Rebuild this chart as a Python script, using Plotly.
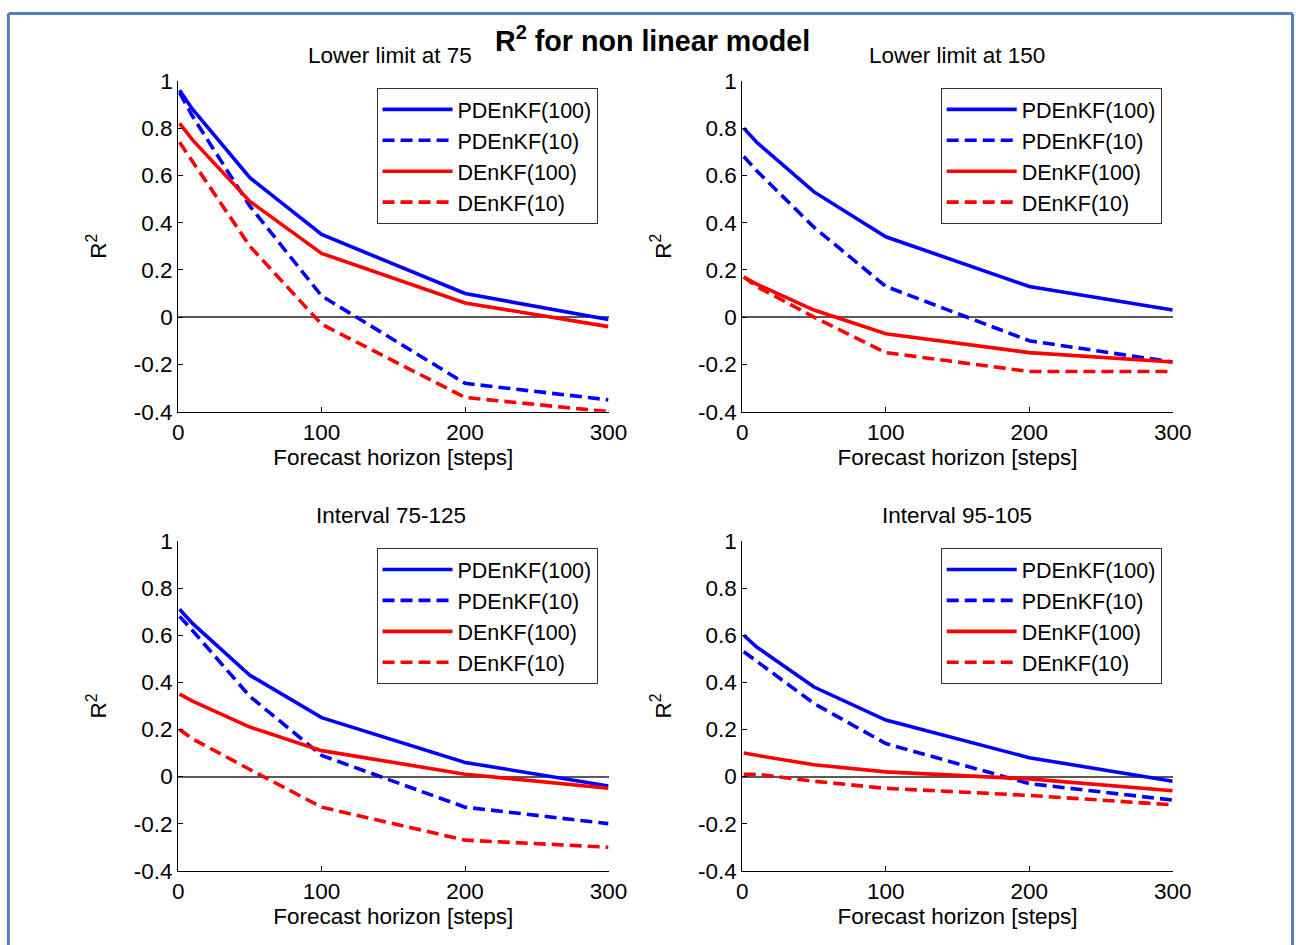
import plotly.graph_objects as go

# ---------------- data ----------------
horizon = [1, 10, 50, 100, 200, 300]

series_names = ["PDEnKF(100)", "PDEnKF(10)", "DEnKF(100)", "DEnKF(10)"]

panel_titles = ["Lower limit at 75", "Lower limit at 150", "Interval 75-125", "Interval 95-105"]

# Lower limit at 75
ll75_pdenkf100 = [0.96, 0.88, 0.59, 0.35, 0.10, -0.01]
ll75_pdenkf10 = [0.95, 0.85, 0.47, 0.09, -0.28, -0.35]
ll75_denkf100 = [0.82, 0.75, 0.49, 0.27, 0.06, -0.04]
ll75_denkf10 = [0.74, 0.66, 0.30, -0.03, -0.34, -0.40]

# Lower limit at 150
ll150_pdenkf100 = [0.80, 0.74, 0.53, 0.34, 0.13, 0.03]
ll150_pdenkf10 = [0.68, 0.62, 0.38, 0.13, -0.10, -0.19]
ll150_denkf100 = [0.17, 0.14, 0.03, -0.07, -0.15, -0.19]
ll150_denkf10 = [0.17, 0.13, 0.00, -0.15, -0.23, -0.23]

# Interval 75-125
i75_pdenkf100 = [0.71, 0.65, 0.43, 0.25, 0.06, -0.04]
i75_pdenkf10 = [0.68, 0.62, 0.34, 0.09, -0.13, -0.20]
i75_denkf100 = [0.35, 0.32, 0.21, 0.11, 0.01, -0.05]
i75_denkf10 = [0.20, 0.16, 0.03, -0.13, -0.27, -0.30]

# Interval 95-105
i95_pdenkf100 = [0.60, 0.55, 0.38, 0.24, 0.08, -0.02]
i95_pdenkf10 = [0.53, 0.49, 0.31, 0.14, -0.03, -0.10]
i95_denkf100 = [0.10, 0.09, 0.05, 0.02, -0.01, -0.06]
i95_denkf10 = [0.01, 0.01, -0.02, -0.05, -0.08, -0.12]

panels = [
    [ll75_pdenkf100, ll75_pdenkf10, ll75_denkf100, ll75_denkf10],
    [ll150_pdenkf100, ll150_pdenkf10, ll150_denkf100, ll150_denkf10],
    [i75_pdenkf100, i75_pdenkf10, i75_denkf100, i75_denkf10],
    [i95_pdenkf100, i95_pdenkf10, i95_denkf100, i95_denkf10],
]

x_ticks = [0, 100, 200, 300]
y_tickvals = [-0.4, -0.2, 0, 0.2, 0.4, 0.6, 0.8, 1]
y_ticktext = ["-0.4", "-0.2", "0", "0.2", "0.4", "0.6", "0.8", "1"]

# ---------------- layout ----------------
W, H = 1320, 975
FONT = "Liberation Sans, Arial, sans-serif"

# the captured picture shows the page slightly shrunk and shifted; map target
# picture positions to page positions
SX, OX, SY, OY = 0.9825, 4.6, 0.972, 13.3
def px(X):
    return (X - OX) / SX
def py(Y):
    return (Y - OY) / SY
FS = 1.0 / ((SX + SY) / 2)

styles = [
    dict(color="#0000ff", dash="solid"),
    dict(color="#0000ff", dash="12px,6px"),
    dict(color="#ff0000", dash="solid"),
    dict(color="#ff0000", dash="12px,6px"),
]

# target boxes (left, right, top, bottom) in picture pixels
boxes = [
    (177, 608, 82, 412),
    (742, 1173, 82, 412),
    (177, 608, 541, 870),
    (742, 1173, 541, 870),
]
title_centers = [(389, 57), (957, 57), (390, 516), (957, 516)]

fig = go.Figure()
legend_ids = ["legend", "legend2", "legend3", "legend4"]

for p, (vals, box) in enumerate(zip(panels, boxes)):
    sfx = "" if p == 0 else str(p + 1)
    for s, (name, y) in enumerate(zip(series_names, vals)):
        fig.add_trace(go.Scatter(
            x=horizon, y=y, mode="lines", name=name,
            line=dict(color=styles[s]["color"], dash=styles[s]["dash"], width=3.6),
            xaxis="x" + sfx, yaxis="y" + sfx,
            legend=legend_ids[p], showlegend=True,
        ))
    l, r, t, b = box
    xa = dict(
        domain=[px(l) / W, px(r) / W], range=[0, 300], tickvals=x_ticks,
        showline=True, linecolor="black", linewidth=1, mirror=False,
        ticks="inside", ticklen=5, tickcolor="black", showgrid=False, zeroline=False,
        tickfont=dict(size=22 * FS, color="black", family=FONT),
        title=dict(text="Forecast horizon [steps]", font=dict(size=22 * FS, color="black", family=FONT), standoff=5),
        anchor="y" + sfx, fixedrange=True,
    )
    ya = dict(
        domain=[1 - py(b) / H, 1 - py(t) / H], range=[-0.4, 1],
        tickvals=y_tickvals, ticktext=y_ticktext,
        showline=True, linecolor="black", linewidth=1, mirror=False,
        ticks="inside", ticklen=5, tickcolor="black", showgrid=False,
        zeroline=True, zerolinecolor="#5a5a5a", zerolinewidth=2,
        tickfont=dict(size=22 * FS, color="black", family=FONT),
        title=dict(text="R<sup>2</sup>", font=dict(size=22 * FS, color="black", family=FONT), standoff=20),
        anchor="x" + sfx, fixedrange=True,
    )
    fig.layout["xaxis" + sfx] = xa
    fig.layout["yaxis" + sfx] = ya
    fig.layout[legend_ids[p]] = dict(
        x=px(r - 11) / W, xanchor="right", y=1 - py(t + 7) / H, yanchor="top",
        bgcolor="white", bordercolor="#333333", borderwidth=1,
        font=dict(size=21 * FS, color="black", family=FONT),
        itemwidth=70, tracegroupgap=0,
    )
    cx, cy = title_centers[p]
    fig.add_annotation(
        text=panel_titles[p], x=px(cx) / W, y=1 - py(cy) / H,
        xref="paper", yref="paper", xanchor="center", yanchor="middle",
        showarrow=False, font=dict(size=22 * FS, color="black", family=FONT),
    )

fig.add_annotation(
    text="<b>R<sup>2</sup> for non linear model</b>", x=px(652) / W, y=1 - py(40) / H,
    xref="paper", yref="paper", xanchor="center", yanchor="middle",
    showarrow=False, font=dict(size=28 * FS, color="black", family=FONT),
)

# frame: left, top and right edges only (bottom edge lies beyond the picture)
bx0, bx1, by1 = max(px(7), 1.5) / W, min(px(1293), W - 1.5) / W, 1 - max(py(8.5), 1.5) / H
for (x0, y0, x1, y1) in [(bx0, 0, bx0, by1), (bx0, by1, bx1, by1), (bx1, 0, bx1, by1)]:
    fig.add_shape(
        type="line", xref="paper", yref="paper", x0=x0, y0=y0, x1=x1, y1=y1,
        line=dict(color="#4f81bd", width=3), layer="below",
    )

fig.update_layout(
    width=W, height=H, margin=dict(l=0, r=0, t=0, b=0),
    paper_bgcolor="white", plot_bgcolor="white",
    font=dict(family=FONT, color="black"),
)

fig.write_html(
    "out.html",
    config={"displayModeBar": False},
    post_script=(
        "document.documentElement.style.margin='0';"
        "document.body.style.margin='0';"
        "document.body.style.overflow='hidden';"
        "document.documentElement.style.overflow='hidden';"
    ),
)
